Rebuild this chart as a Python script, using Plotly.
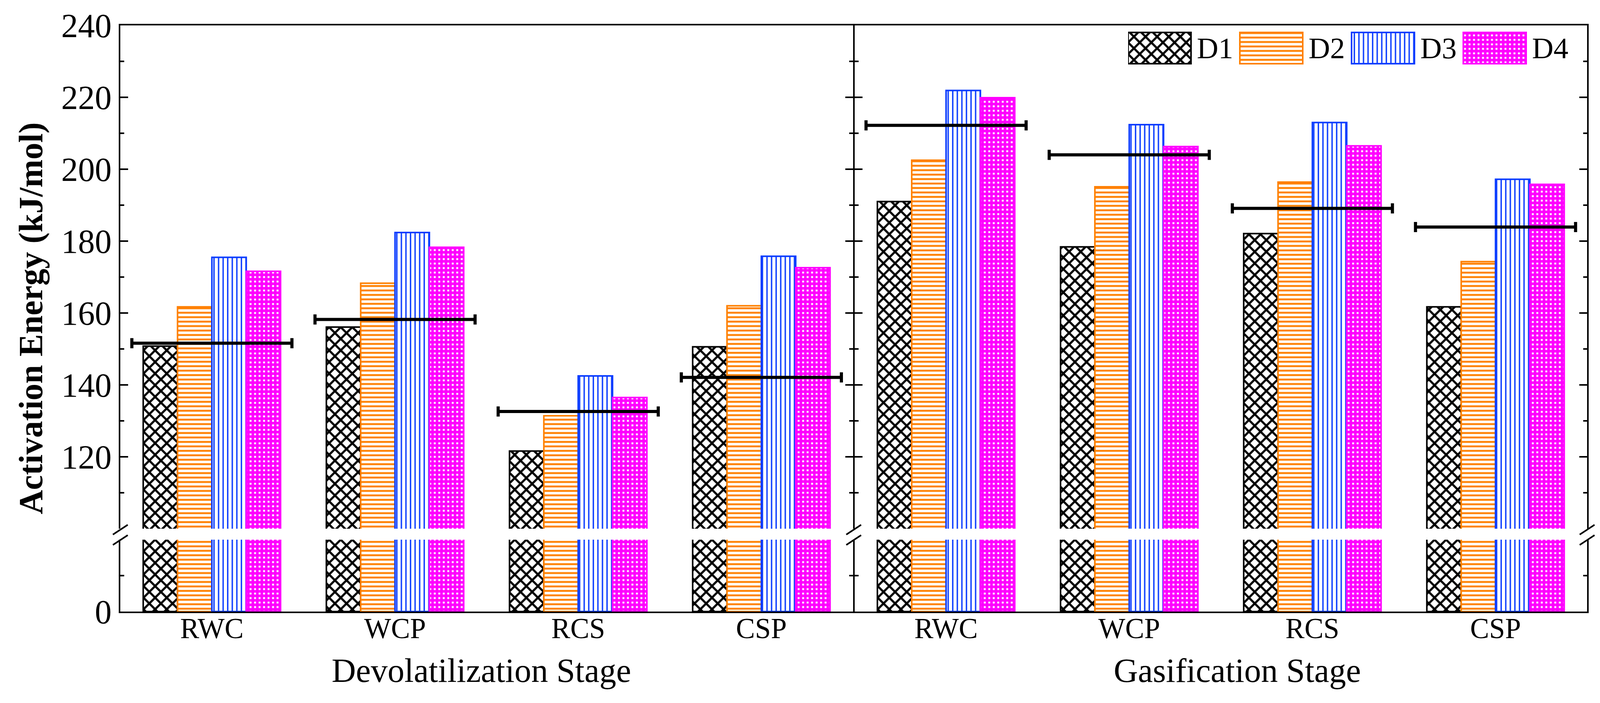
import plotly.graph_objects as go

# ---------------- data ----------------
categories = ["RWC", "WCP", "RCS", "CSP"]
series_names = ["D1", "D2", "D3", "D4"]

dev_D1 = [150.8, 156.1, 121.6, 150.6]
dev_D2 = [161.7, 168.3, 131.4, 162.0]
dev_D3 = [175.5, 182.4, 142.5, 175.8]
dev_D4 = [171.6, 178.3, 136.5, 172.6]
dev_avg = [151.6, 158.2, 132.6, 142.1]

gas_D1 = [191.0, 178.4, 182.1, 161.7]
gas_D2 = [202.5, 195.1, 196.4, 174.3]
gas_D3 = [221.9, 212.4, 213.0, 197.2]
gas_D4 = [219.9, 206.3, 206.5, 195.8]
gas_avg = [212.2, 204.0, 189.1, 183.9]

upper_ticks = [120, 140, 160, 180, 200, 220, 240]
upper_minor = [110, 130, 150, 170, 190, 210, 230]
lower_ticks = [0]
lower_minor = [10]

stage_titles = ["Devolatilization Stage", "Gasification Stage"]
y_title = "Activation Energy (kJ/mol)"

# ---------------- styles ----------------
colors = ["#000000", "#FF8000", "#0A3CFF", "#FF00FF"]
pshapes = ["x", "-", "|", "+"]
psizes = [21, 11.4, 11.7, 11.5]
psolid = [0.45, 0.42, 0.3, 0.82]
FONT = "Liberation Serif"
LW = 4

W, H = 4118, 1799
L, R, T, B = 308, 55, 65, 234
pw = W - L - R
ph = H - T - B


def px_x(px):
    return (px - L) / pw


def px_y(py):
    return (H - B - py) / ph


up_dom = [px_y(1353), 1.0]
low_dom = [0.0, px_y(1381)]
mid_px = (308 + 4063) / 2
left_dom = [0.0, px_x(mid_px - LW / 2)]
right_dom = [px_x(mid_px + LW / 2), 1.0]

fig = go.Figure()

panels = [
    ("x", "y", "x2", "y2", [dev_D1, dev_D2, dev_D3, dev_D4], dev_avg),
    ("x3", "y3", "x4", "y4", [gas_D1, gas_D2, gas_D3, gas_D4], gas_avg),
]
xpos = [i + 0.5 for i in range(len(categories))]

for xu, yu, xl, yl, series, avg in panels:
    for (xa, ya) in [(xu, yu), (xl, yl)]:
        for k, vals in enumerate(series):
            fig.add_trace(go.Bar(
                x=xpos, y=vals, name=series_names[k], xaxis=xa, yaxis=ya,
                marker=dict(color="white",
                            line=dict(color=colors[k], width=4),
                            pattern=dict(shape=pshapes[k], fgcolor=colors[k],
                                         bgcolor="white", size=psizes[k],
                                         solidity=psolid[k], fillmode="replace")),
                showlegend=False, hoverinfo="skip"))
    fig.add_trace(go.Scatter(
        x=xpos, y=avg, xaxis=xu, yaxis=yu, mode="markers",
        marker=dict(size=1, color="rgba(0,0,0,0)"),
        error_x=dict(type="constant", value=0.437, thickness=8, width=13,
                     color="black"),
        showlegend=False, hoverinfo="skip"))

# legend drawn as a tiny subplot
box_w = 161 / 286
fig.add_trace(go.Bar(
    x=[i + box_w / 2 for i in range(4)], y=[1, 1, 1, 1], width=[box_w] * 4,
    xaxis="x5", yaxis="y5",
    marker=dict(color="white",
                line=dict(color=colors, width=4),
                pattern=dict(shape=pshapes, fgcolor=colors, bgcolor="white",
                             size=psizes, solidity=psolid, fillmode="replace")),
    showlegend=False, hoverinfo="skip"))

annotations = []
for i, nm in enumerate(series_names):
    annotations.append(dict(x=i + (3062 - 2888) / 286, y=0.5, xref="x5", yref="y5",
                            text=nm, showarrow=False, xanchor="left", yanchor="middle",
                            font=dict(family=FONT, size=76, color="black")))

annotations.append(dict(x=px_x(79), y=0.5, xref="paper", yref="paper",
                        text="<b>" + y_title + "</b>", textangle=-90, showarrow=False,
                        xanchor="center", yanchor="middle",
                        font=dict(family=FONT, size=86, color="black")))
for cx, t in zip([1232, 3167], stage_titles):
    annotations.append(dict(x=px_x(cx), y=px_y(1716), xref="paper", yref="paper",
                            text=t, showarrow=False, xanchor="center", yanchor="middle",
                            font=dict(family=FONT, size=86, color="black")))

# break marks
shapes = []
for bx in [308, mid_px, 4063]:
    for yc in [1355.5, 1382]:
        shapes.append(dict(type="line", xref="paper", yref="paper",
                           x0=px_x(bx - 19), y0=px_y(yc + 12.5),
                           x1=px_x(bx + 19), y1=px_y(yc - 12.5),
                           line=dict(color="black", width=4)))

tickfont = dict(family=FONT, size=86, color="black")


def yax(dom, anchor, rng, tv, mv, labels):
    return dict(domain=dom, anchor=anchor, range=rng, showline=True,
                linecolor="black", linewidth=LW, mirror="ticks",
                ticks="inside", ticklen=20, tickwidth=4, tickcolor="black",
                tickmode="array", tickvals=tv, ticktext=[str(v) for v in tv],
                showticklabels=labels, tickfont=tickfont, ticklabelstandoff=1,
                minor=dict(ticks="inside", ticklen=10, tickwidth=4, tickcolor="black",
                           tickmode="array", tickvals=mv, showgrid=False),
                showgrid=False, zeroline=False, fixedrange=True)


def xtop(dom, anchor):
    return dict(domain=dom, anchor=anchor, range=[0, 4], side="top", showline=True,
                linecolor="black", linewidth=LW, ticks="", showticklabels=False,
                showgrid=False, zeroline=False, fixedrange=True)


def xbot(dom, anchor):
    return dict(domain=dom, anchor=anchor, range=[0, 4], side="bottom", showline=True,
                linecolor="black", linewidth=LW, ticks="", tickmode="array",
                tickvals=xpos, ticktext=categories,
                tickfont=dict(family=FONT, size=73, color="black"),
                ticklabelstandoff=-24,
                showgrid=False, zeroline=False, fixedrange=True)


leg_px0, leg_px1 = 2888, 2888 + 4 * 286
pad = 0.05
box_top, box_bot = 83, 163
dom_y0 = px_y(box_bot + pad * 80)
dom_y1 = px_y(box_top - pad * 80)

fig.update_layout(
    width=W, height=H,
    margin=dict(l=L, r=R, t=T, b=B, pad=0),
    paper_bgcolor="white", plot_bgcolor="rgba(0,0,0,0)",
    barmode="group", bargap=0.25, bargroupgap=0,
    showlegend=False,
    font=dict(family=FONT, color="black"),
    xaxis=xtop(left_dom, "y"),
    yaxis=yax(up_dom, "x", [100, 240], upper_ticks, upper_minor, True),
    xaxis2=xbot(left_dom, "y2"),
    yaxis2=yax(low_dom, "x2", [0, 20], lower_ticks, lower_minor, True),
    xaxis3=xtop(right_dom, "y3"),
    yaxis3=yax(up_dom, "x3", [100, 240], upper_ticks, upper_minor, False),
    xaxis4=xbot(right_dom, "y4"),
    yaxis4=yax(low_dom, "x4", [0, 20], lower_ticks, lower_minor, False),
    xaxis5=dict(domain=[px_x(leg_px0), px_x(leg_px1)], anchor="y5", range=[0, 4],
                visible=False, fixedrange=True),
    yaxis5=dict(domain=[dom_y0, dom_y1], anchor="x5", range=[-pad, 1 + pad],
                visible=False, fixedrange=True),
    annotations=annotations,
    shapes=shapes,
)

fig.write_html("out.html", post_script="document.body.style.margin='0px';",
               config={"displayModeBar": False})
